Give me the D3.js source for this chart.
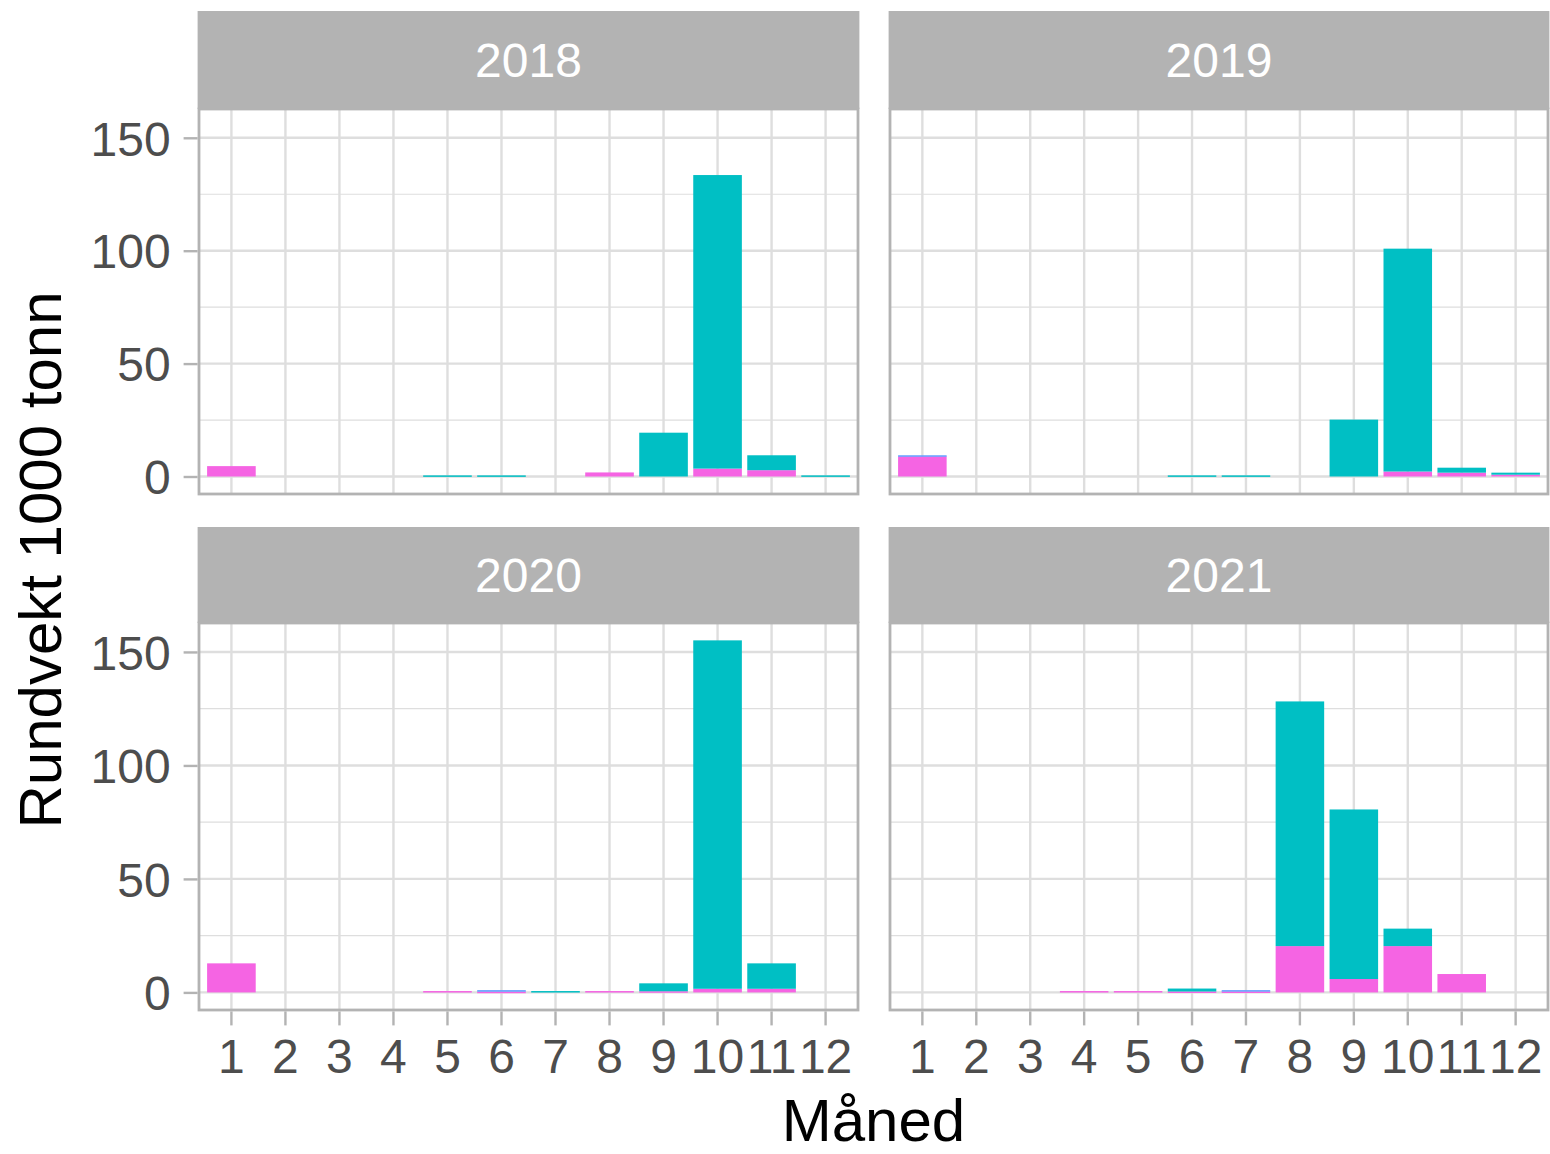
<!DOCTYPE html>
<html>
<head>
<meta charset="utf-8">
<script src="https://cdn.jsdelivr.net/npm/d3@7"></script>
<style>
  html, body { margin: 0; padding: 0; background: #ffffff; }
  svg { display: block; }
  text { font-family: "Liberation Sans", Arial, sans-serif; }
</style>
</head>
<body>
<svg id="chart" width="1550" height="1154"></svg>
<script>
// ---- Data (1000 tonn, per month) ----
const months = [1, 2, 3, 4, 5, 6, 7, 8, 9, 10, 11, 12];
const years = ["2018", "2019", "2020", "2021"];
const yTicks = [0, 50, 100, 150];
const seriesKeys = ["rosa", "blaa", "turkis"];        // stacked bottom -> top
const seriesColors = ["#F564E3", "#619CFF", "#00BFC4"];

const rosa2018   = [4.6, 0, 0, 0, 0, 0, 0, 1.8, 0, 3.5, 2.8, 0];
const blaa2018   = [0, 0, 0, 0, 0, 0, 0, 0, 0, 0, 0, 0];
const turkis2018 = [0, 0, 0, 0, 0.5, 0.5, 0, 0, 19.4, 130.0, 6.6, 0.5];

const rosa2019   = [8.9, 0, 0, 0, 0, 0, 0, 0, 0, 2.2, 1.7, 0.8];
const blaa2019   = [0.5, 0, 0, 0, 0, 0, 0, 0, 0, 0, 0, 0];
const turkis2019 = [0, 0, 0, 0, 0, 0.5, 0.5, 0, 25.2, 98.7, 2.2, 0.9];

const rosa2020   = [12.8, 0, 0, 0, 0.6, 0.3, 0, 0.6, 0.5, 1.6, 1.6, 0];
const blaa2020   = [0, 0, 0, 0, 0, 0.7, 0, 0, 0, 0, 0, 0];
const turkis2020 = [0, 0, 0, 0, 0, 0, 0.6, 0, 3.5, 153.5, 11.2, 0];

const rosa2021   = [0, 0, 0, 0.6, 0.6, 0.4, 0.4, 20.4, 5.9, 20.4, 8.1, 0];
const blaa2021   = [0, 0, 0, 0, 0, 0, 0.6, 0, 0, 0, 0, 0];
const turkis2021 = [0, 0, 0, 0, 0, 1.3, 0, 107.8, 74.7, 7.7, 0, 0];

const dataByYear = {
  "2018": [rosa2018, blaa2018, turkis2018],
  "2019": [rosa2019, blaa2019, turkis2019],
  "2020": [rosa2020, blaa2020, turkis2020],
  "2021": [rosa2021, blaa2021, turkis2021]
};

// ---- Layout ----
const svg = d3.select("#chart");
const colX = [[199, 858], [890, 1548]];
const rowY = [{ strip: 11, top: 109, bottom: 494 }, { strip: 527, top: 623, bottom: 1010 }];

const grey70 = "#B3B3B3";
const grey87 = "#DEDEDE";
const textGrey = "#4D4D4D";

const yMax = 155 * 1.05;
const yMin = -155 * 0.05;

years.forEach((yr, i) => {
  const col = i % 2, row = Math.floor(i / 2);
  const [x0, x1] = colX[col];
  const R = rowY[row];

  const x = d3.scaleBand().domain(months).range([x0, x1]).paddingInner(0.1).paddingOuter(0.15);
  const y = d3.scaleLinear().domain([yMin, yMax]).range([R.bottom, R.top]);

  const g = svg.append("g");

  // panel background
  g.append("rect").attr("x", x0).attr("y", R.top).attr("width", x1 - x0).attr("height", R.bottom - R.top)
    .attr("fill", "#fff");

  // minor grid
  const minor = [25, 75, 125];
  g.selectAll(".minor").data(minor).join("line")
    .attr("x1", x0).attr("x2", x1).attr("y1", d => y(d)).attr("y2", d => y(d))
    .attr("stroke", grey87).attr("stroke-width", 1.2);
  // major grid horizontal
  g.selectAll(".majorH").data(yTicks).join("line")
    .attr("x1", x0).attr("x2", x1).attr("y1", d => y(d)).attr("y2", d => y(d))
    .attr("stroke", grey87).attr("stroke-width", 2.4);
  // vertical grid
  g.selectAll(".majorV").data(months).join("line")
    .attr("x1", d => x(d) + x.bandwidth() / 2).attr("x2", d => x(d) + x.bandwidth() / 2)
    .attr("y1", R.top).attr("y2", R.bottom)
    .attr("stroke", grey87).attr("stroke-width", 2.4);

  // stacked bars
  const rows = months.map((m, k) => {
    const o = { month: m };
    seriesKeys.forEach((s, j) => { o[s] = dataByYear[yr][j][k]; });
    return o;
  });
  const stacked = d3.stack().keys(seriesKeys)(rows);
  stacked.forEach((layer, j) => {
    g.append("g").selectAll("rect").data(layer.filter(d => d[1] - d[0] > 0)).join("rect")
      .attr("x", d => x(d.data.month))
      .attr("width", x.bandwidth())
      .attr("y", d => y(d[1]))
      .attr("height", d => Math.max(1.5, y(d[0]) - y(d[1])))
      .attr("fill", seriesColors[j]);
  });

  // panel border
  g.append("rect").attr("x", x0).attr("y", R.top).attr("width", x1 - x0).attr("height", R.bottom - R.top)
    .attr("fill", "none").attr("stroke", grey70).attr("stroke-width", 2.8);

  // strip
  g.append("rect").attr("x", x0 - 1.4).attr("y", R.strip).attr("width", x1 - x0 + 2.8).attr("height", R.top - R.strip)
    .attr("fill", grey70);
  g.append("text").attr("x", (x0 + x1) / 2).attr("y", (R.strip + R.top) / 2)
    .attr("dy", "0.36em").attr("text-anchor", "middle")
    .attr("fill", "#fff").attr("font-size", 48).text(yr);

  // y axis on left column
  if (col === 0) {
    const ax = g.append("g").attr("transform", `translate(${x0 - 1.4},0)`)
      .call(d3.axisLeft(y).tickValues(yTicks).tickSize(14).tickPadding(13));
    ax.select(".domain").remove();
    ax.selectAll(".tick line").attr("stroke", grey70).attr("stroke-width", 2.4);
    ax.selectAll(".tick text").attr("fill", textGrey).attr("font-size", 48)
      .attr("font-family", "Liberation Sans, Arial, sans-serif").attr("dy", "0.36em");
  }
  // x axis on bottom row
  if (row === 1) {
    const ax = g.append("g").attr("transform", `translate(0,${R.bottom + 1.4})`)
      .call(d3.axisBottom(x).tickSize(14).tickPadding(14));
    ax.select(".domain").remove();
    ax.selectAll(".tick line").attr("stroke", grey70).attr("stroke-width", 2.4);
    ax.selectAll(".tick text").attr("fill", textGrey).attr("font-size", 48)
      .attr("font-family", "Liberation Sans, Arial, sans-serif").attr("dy", "0.71em");
  }
});

// axis titles
svg.append("text").attr("x", 873.5).attr("y", 1141).attr("text-anchor", "middle")
  .attr("font-size", 60).attr("fill", "#000").text("Måned");
svg.append("text").attr("transform", "translate(61,560) rotate(-90)").attr("text-anchor", "middle")
  .attr("font-size", 60).attr("fill", "#000").text("Rundvekt 1000 tonn");
</script>
</body>
</html>
